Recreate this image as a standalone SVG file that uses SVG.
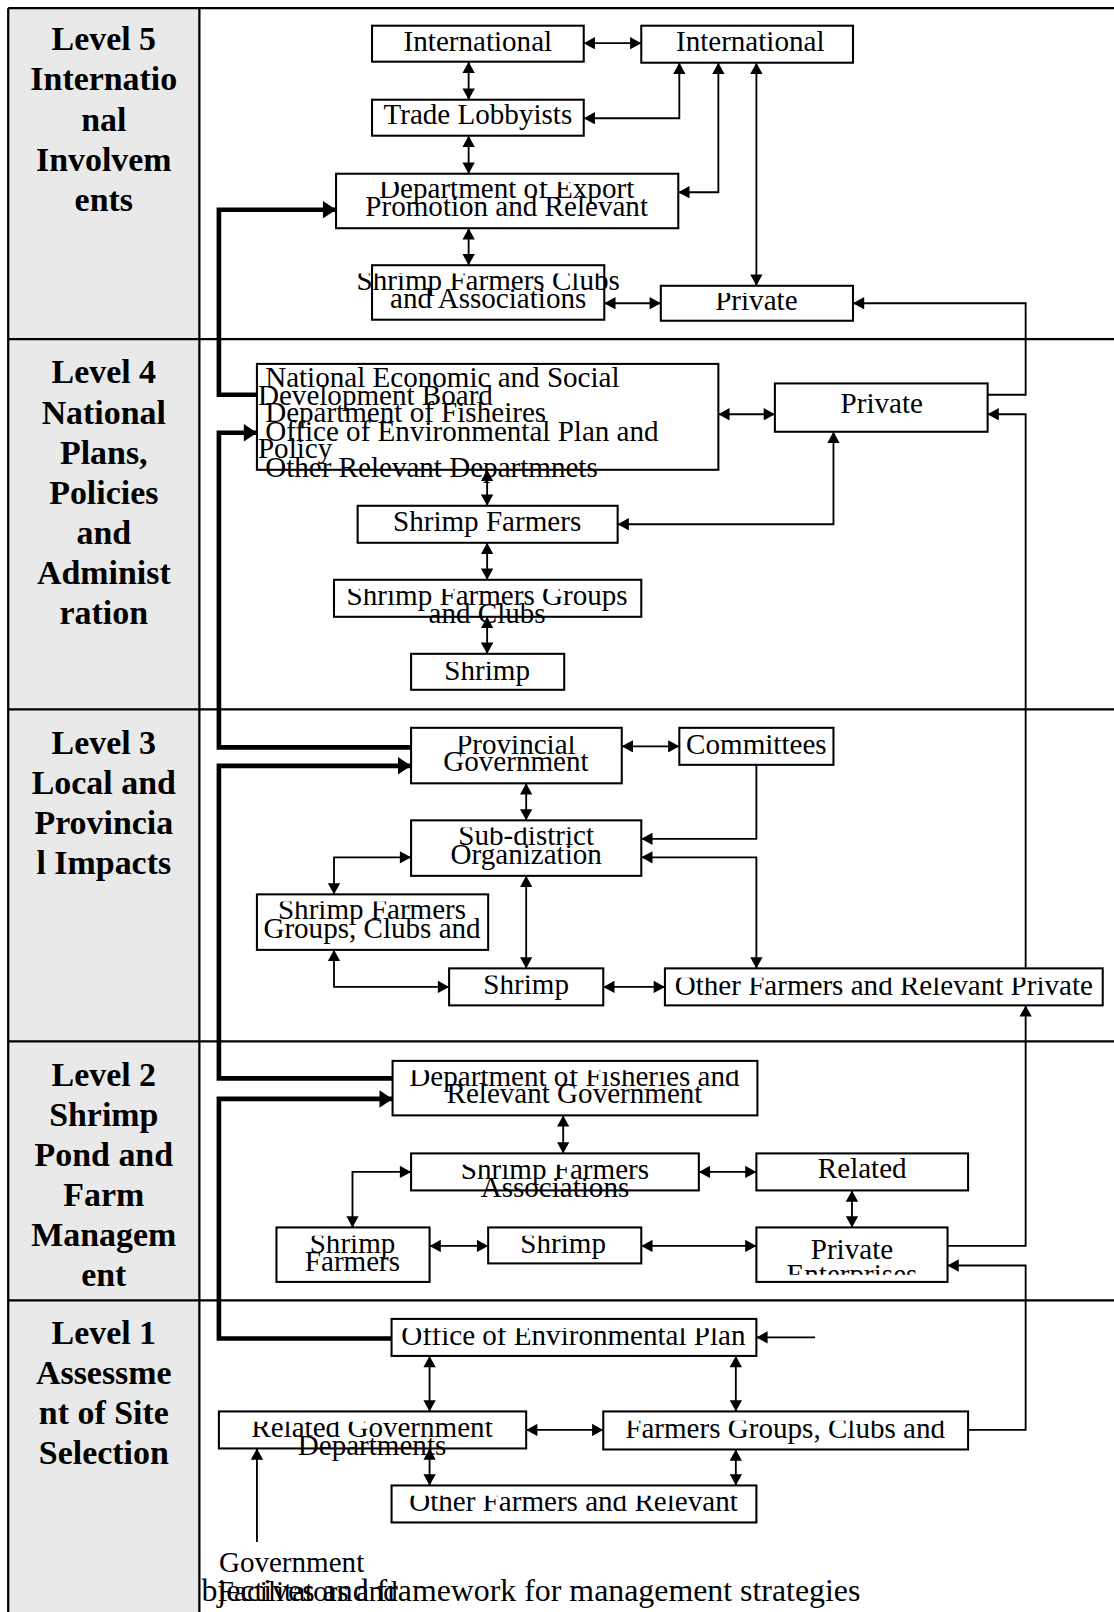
<svg xmlns="http://www.w3.org/2000/svg" width="1114" height="1612" viewBox="0 0 1114 1612">
<style>
.box{fill:#fff;stroke:#000;stroke-width:2}
.t{font-family:"Liberation Serif","Times New Roman",serif;font-size:28.3px;text-anchor:middle;fill:#000}
.tl{text-anchor:start}
.big{font-size:31px}
.lab{font-family:"Liberation Serif","Times New Roman",serif;font-weight:bold;font-size:33px;text-anchor:middle;fill:#000}
.c{fill:none;stroke:#000;stroke-width:1.8}
.d{marker-start:url(#ah);marker-end:url(#ah)}
.s{marker-end:url(#ah)}
.k{fill:none;stroke:#000;stroke-width:4.5;stroke-linejoin:miter;marker-end:url(#ak)}
.grid{stroke:#000;stroke-width:2.2;fill:none}
</style>
<defs>
<marker id="ah" markerUnits="userSpaceOnUse" markerWidth="12" markerHeight="12" refX="10" refY="5.5" orient="auto-start-reverse" viewBox="0 0 10 11"><path d="M0,0 L10,5.5 L0,11 z" fill="#000"/></marker>
<marker id="ak" markerUnits="userSpaceOnUse" markerWidth="14" markerHeight="17" refX="12" refY="8" orient="auto" viewBox="0 0 12 16"><path d="M0,0 L12,8 L0,16 z" fill="#000"/></marker>
<clipPath id="k4" clipPathUnits="userSpaceOnUse"><rect x="0" y="177" width="1100" height="200"/></clipPath>
<clipPath id="k5" clipPathUnits="userSpaceOnUse"><rect x="0" y="266" width="1100" height="200"/></clipPath>
<clipPath id="k6" clipPathUnits="userSpaceOnUse"><rect x="0" y="285" width="1100" height="200"/></clipPath>
<clipPath id="k10" clipPathUnits="userSpaceOnUse"><rect x="0" y="573" width="1100" height="200"/></clipPath>
<clipPath id="k11" clipPathUnits="userSpaceOnUse"><rect x="0" y="644" width="1100" height="200"/></clipPath>
<clipPath id="k12" clipPathUnits="userSpaceOnUse"><rect x="0" y="716" width="1100" height="200"/></clipPath>
<clipPath id="k14" clipPathUnits="userSpaceOnUse"><rect x="0" y="805" width="1100" height="200"/></clipPath>
<clipPath id="k15" clipPathUnits="userSpaceOnUse"><rect x="0" y="877" width="1100" height="200"/></clipPath>
<clipPath id="k16" clipPathUnits="userSpaceOnUse"><rect x="0" y="949" width="1100" height="200"/></clipPath>
<clipPath id="k17" clipPathUnits="userSpaceOnUse"><rect x="0" y="951" width="1100" height="200"/></clipPath>
<clipPath id="k18" clipPathUnits="userSpaceOnUse"><rect x="0" y="1041" width="1100" height="200"/></clipPath>
<clipPath id="k19" clipPathUnits="userSpaceOnUse"><rect x="0" y="1133" width="1100" height="200"/></clipPath>
<clipPath id="k21" clipPathUnits="userSpaceOnUse"><rect x="0" y="1202" width="1100" height="200"/></clipPath>
<clipPath id="k23" clipPathUnits="userSpaceOnUse"><rect x="700" y="1194" width="260" height="46"/></clipPath>
<clipPath id="k24" clipPathUnits="userSpaceOnUse"><rect x="0" y="1292" width="1100" height="200"/></clipPath>
<clipPath id="k25" clipPathUnits="userSpaceOnUse"><rect x="0" y="1383" width="1100" height="200"/></clipPath>
<clipPath id="k26" clipPathUnits="userSpaceOnUse"><rect x="0" y="1382" width="1100" height="200"/></clipPath>
<clipPath id="k27" clipPathUnits="userSpaceOnUse"><rect x="0" y="1455" width="1100" height="200"/></clipPath>
</defs>
<rect width="1114" height="1612" fill="#fff"/>
<g transform="scale(1.0277 1.028)">
<g id="table">
<rect x="8" y="8" width="186" height="1580" fill="#e9e9e9"/>
<path class="grid" d="M8,8 H1090 M8,8 V1590 M194,8 V1590 M8,330 H1090 M8,690 H1090 M8,1013 H1090 M8,1265 H1090"/>
<g id="label5"><text class="lab" x="101" y="49">Level 5</text><text class="lab" x="101" y="88">Internatio</text><text class="lab" x="101" y="127">nal</text><text class="lab" x="101" y="166">Involvem</text><text class="lab" x="101" y="205">ents</text></g>
<g id="label4"><text class="lab" x="101" y="373">Level 4</text><text class="lab" x="101" y="412">National</text><text class="lab" x="101" y="451">Plans,</text><text class="lab" x="101" y="490">Policies</text><text class="lab" x="101" y="529">and</text><text class="lab" x="101" y="568">Administ</text><text class="lab" x="101" y="607">ration</text></g>
<g id="label3"><text class="lab" x="101" y="733">Level 3</text><text class="lab" x="101" y="772">Local and</text><text class="lab" x="101" y="811">Provincia</text><text class="lab" x="101" y="850">l Impacts</text></g>
<g id="label2"><text class="lab" x="101" y="1056">Level 2</text><text class="lab" x="101" y="1095">Shrimp</text><text class="lab" x="101" y="1134">Pond and</text><text class="lab" x="101" y="1173">Farm</text><text class="lab" x="101" y="1212">Managem</text><text class="lab" x="101" y="1251">ent</text></g>
<g id="label1"><text class="lab" x="101" y="1307">Level 1</text><text class="lab" x="101" y="1346">Assessme</text><text class="lab" x="101" y="1385">nt of Site</text><text class="lab" x="101" y="1424">Selection</text></g>
</g>
<g id="connectors">
<path class="c d" d="M568,42 H624"/>
<path class="c d" d="M456,60 V97"/>
<path class="c d" d="M456,132 V169"/>
<path class="c d" d="M456,222 V258"/>
<path class="c d" d="M568,115 H661 V61"/>
<path class="c d" d="M660,187 H699 V61"/>
<path class="c d" d="M736,61 V278"/>
<path class="c d" d="M588,295 H643"/>
<path class="c s" d="M961,384 H998 V295 H830"/>
<path class="c d" d="M699,403 H754"/>
<path class="c d" d="M474,457 V492"/>
<path class="c d" d="M474,528 V564"/>
<path class="c d" d="M474,600 V636"/>
<path class="c d" d="M601,510 H811 V420"/>
<path class="c s" d="M998,942 V403 H961"/>
<path class="c d" d="M605,726 H661"/>
<path class="c d" d="M512,762 V798"/>
<path class="c s" d="M736,744 V816 H624"/>
<path class="c d" d="M624,834 H736 V942"/>
<path class="c d" d="M400,834 H325 V870"/>
<path class="c d" d="M325,924 V960 H437"/>
<path class="c d" d="M512,852 V942"/>
<path class="c d" d="M587,960 H647"/>
<path class="c d" d="M548,1085 V1122"/>
<path class="c d" d="M400,1140 H343 V1194"/>
<path class="c d" d="M680,1140 H736"/>
<path class="c d" d="M829,1158 V1194"/>
<path class="c d" d="M418,1212 H475"/>
<path class="c d" d="M624,1212 H736"/>
<path class="c s" d="M922,1212 H998 V978"/>
<path class="c s" d="M942,1391 H998 V1231 H922"/>
<path class="c s" d="M793,1301 H736"/>
<path class="c d" d="M418,1319 V1373"/>
<path class="c d" d="M716,1319 V1373"/>
<path class="c d" d="M512,1391 H587"/>
<path class="c d" d="M418,1409 V1445"/>
<path class="c d" d="M716,1410 V1445"/>
<path class="c s" d="M250,1500 V1409"/>
<path class="k" d="M250,384 H213 V204 H327"/>
<path class="k" d="M400,727 H213 V421 H250"/>
<path class="k" d="M382,1049 H213 V745 H400"/>
<path class="k" d="M381,1302 H213 V1069 H382"/>
</g>
<g id="n1"><rect class="box" x="362" y="25" width="206" height="35"/><text class="t" x="465" y="50">International</text></g>
<g id="n2"><rect class="box" x="624" y="25" width="206" height="36"/><text class="t" x="730" y="50">International</text></g>
<g id="n3"><rect class="box" x="362" y="97" width="206" height="35"/><text class="t" x="465" y="121">Trade Lobbyists</text></g>
<g id="n4"><rect class="box" x="327" y="169" width="333" height="53"/><g clip-path="url(#k4)"><text class="t" x="493" y="193">Department of Export</text><text class="t" x="493" y="210.5">Promotion and Relevant</text></g></g>
<g id="n5"><rect class="box" x="362" y="258" width="226" height="53"/><g clip-path="url(#k5)"><text class="t" x="475" y="282">Shrimp Farmers Clubs</text><text class="t" x="475" y="300">and Associations</text></g></g>
<g id="n6"><rect class="box" x="643" y="278" width="187" height="34"/><g clip-path="url(#k6)"><text class="t" x="736" y="302">Private</text></g></g>
<g id="n7"><rect class="box" x="250" y="354" width="449" height="103"/><text class="t tl" x="258" y="376">National Economic and Social</text><text class="t tl" x="251" y="394">Development Board</text><text class="t tl" x="258" y="411">Department of Fisheires</text><text class="t tl" x="258" y="429">Office of Environmental Plan and</text><text class="t tl" x="251" y="446">Policy</text><text class="t tl" x="258" y="464">Other Relevant Departmnets</text></g>
<g id="n8"><rect class="box" x="754" y="373" width="207" height="47"/><text class="t" x="858" y="402">Private</text></g>
<g id="n9"><rect class="box" x="348" y="492" width="253" height="36"/><text class="t" x="474" y="517">Shrimp Farmers</text></g>
<g id="n10"><rect class="box" x="325" y="564" width="299" height="36"/><g clip-path="url(#k10)"><text class="t" x="474" y="589">Shrimp Farmers Groups</text><text class="t" x="474" y="606">and Clubs</text></g></g>
<g id="n11"><rect class="box" x="400" y="636" width="149" height="35"/><g clip-path="url(#k11)"><text class="t" x="474" y="661">Shrimp</text></g></g>
<g id="n12"><rect class="box" x="400" y="708" width="205" height="54"/><g clip-path="url(#k12)"><text class="t" x="502" y="733">Provincial</text><text class="t" x="502" y="750">Government</text></g></g>
<g id="n13"><rect class="box" x="661" y="708" width="150" height="36"/><text class="t" x="736" y="733">Committees</text></g>
<g id="n14"><rect class="box" x="400" y="798" width="224" height="54"/><g clip-path="url(#k14)"><text class="t" x="512" y="822">Sub-district</text><text class="t" x="512" y="840">Organization</text></g></g>
<g id="n15"><rect class="box" x="250" y="870" width="225" height="54"/><g clip-path="url(#k15)"><text class="t" x="362" y="894">Shrimp Farmers</text><text class="t" x="362" y="912">Groups, Clubs and</text></g></g>
<g id="n16"><rect class="box" x="437" y="942" width="150" height="36"/><g clip-path="url(#k16)"><text class="t" x="512" y="967">Shrimp</text></g></g>
<g id="n17"><rect class="box" x="647" y="942" width="426" height="36"/><g clip-path="url(#k17)"><text class="t" x="860" y="968">Other Farmers and Relevant Private</text></g></g>
<g id="n18"><rect class="box" x="382" y="1032" width="355" height="53"/><g clip-path="url(#k18)"><text class="t" x="559" y="1056">Department of Fisheries and</text><text class="t" x="559" y="1073">Relevant Government</text></g></g>
<g id="n19"><rect class="box" x="400" y="1122" width="280" height="36"/><g clip-path="url(#k19)"><text class="t" x="540" y="1147">Shrimp Farmers</text><text class="t" x="540" y="1164">Associations</text></g></g>
<g id="n20"><rect class="box" x="736" y="1122" width="206" height="36"/><text class="t" x="839" y="1146">Related</text></g>
<g id="n21"><rect class="box" x="269" y="1194" width="149" height="53"/><g clip-path="url(#k21)"><text class="t" x="343" y="1219">Shrimp</text><text class="t" x="343" y="1236">Farmers</text></g></g>
<g id="n22"><rect class="box" x="475" y="1194" width="149" height="35"/><g clip-path="url(#k21)"><text class="t" x="548" y="1219">Shrimp</text></g></g>
<g id="n23"><rect class="box" x="736" y="1194" width="186" height="53"/><g clip-path="url(#k23)"><text class="t" x="829" y="1225">Private</text><text class="t" x="829" y="1249">Enterprises</text></g></g>
<g id="n24"><rect class="box" x="381" y="1283" width="355" height="36"/><g clip-path="url(#k24)"><text class="t" x="558" y="1308">Office of Environmental Plan</text></g></g>
<g id="n25"><rect class="box" x="213" y="1373" width="299" height="36"/><g clip-path="url(#k25)"><text class="t" x="362" y="1398">Related Government</text><text class="t" x="362" y="1415">Departments</text></g></g>
<g id="n26"><rect class="box" x="587" y="1373" width="355" height="37"/><g clip-path="url(#k26)"><text class="t" x="764" y="1399">Farmers Groups, Clubs and</text></g></g>
<g id="n27"><rect class="box" x="381" y="1445" width="355" height="36"/><g clip-path="url(#k27)"><text class="t" x="558" y="1470">Other Farmers and Relevant</text></g></g>
<g id="caption">
<text class="t tl" x="213" y="1529">Government</text>
<text class="t tl big" x="196" y="1557">bjectives and framework for management strategies</text>
<text class="t tl" x="212" y="1557">Facilitators and</text>
</g>
</g>
</svg>
